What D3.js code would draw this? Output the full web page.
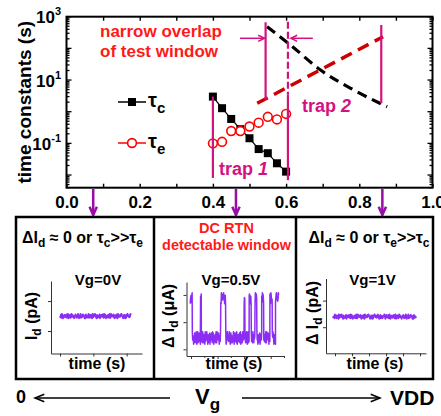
<!DOCTYPE html>
<html>
<head>
<meta charset="utf-8">
<script src="https://cdn.jsdelivr.net/npm/d3@7"></script>
<style>
  body { margin: 0; background: #fff; }
  svg text { font-family: "Liberation Sans", Arial, sans-serif; font-weight: bold; }
</style>
</head>
<body>
<svg id="chart" width="441" height="416"></svg>
<script>
// ---- gate-voltage axis and log time axis ----
const vgTicks = [0, 0.2, 0.4, 0.6, 0.8, 1.0];
const vgMinorTicks = [0.1, 0.3, 0.5, 0.7, 0.9];
const tauLabelExps = [3, 1, -1];

// ---- trap 1: measured capture / emission time constants (s) ----
const vgTrap1 = [0.400, 0.425, 0.450, 0.475, 0.500, 0.525, 0.550, 0.575, 0.600];
const tauC = [3.0, 1.29, 0.59, 0.28, 0.145, 0.066, 0.049, 0.0235, 0.0128];
const tauE = [0.100, 0.112, 0.245, 0.245, 0.34, 0.45, 0.69, 0.57, 0.85];

// ---- trap 2: extrapolated trends ----
const trap2Vg_c = [0.548, 0.612, 0.694, 0.785, 0.876];
const trap2Tau_c = [483, 128, 20.7, 4.84, 1.44];
const trap2Vg_e = [0.521, 0.865];
const trap2Tau_e = [1.84, 234];

// ---- vertical markers: [vg, tau top, tau bottom, dashed] ----
const markers = [
  [0.400, 3.0, 0.0081, false],
  [0.605, 3.4, 0.0069, false],
  [0.605, 690, 3.4, true],
  [0.544, 665, 2.35, false],
  [0.860, 548, 1.84, false]
];
// window arrows: [vg from, vg to] at tau = windowArrowTau
const windowArrows = [[0.474, 0.541], [0.673, 0.613]];
const windowArrowTau = 208;
// panels pointed at by the down arrows
const panelVg = [0.073, 0.463, 0.863];

// ---- drain-current traces in the three panels ----
const trace0V = { start: 0, end: 2.13, level: 0.5, spread: 0.075 };
const trace1V = { start: -0.13, end: 4.76, level: 0.4, spread: 0.085 };
const rtnLevel = { H: 1.88, L: 0.42 };
const rtnSpread = { H: 0.2, L: 0.23 };
const rtnStates = [
  [-0.03, 0.05, "H"], [0.05, 0.36, "L"], [0.36, 0.39, "H"], [0.39, 1.12, "L"],
  [1.12, 1.31, "H"], [1.31, 2.00, "L"], [2.00, 2.03, "H"], [2.03, 2.19, "L"],
  [2.19, 2.27, "H"], [2.27, 2.41, "L"], [2.41, 2.48, "H"], [2.48, 2.66, "L"],
  [2.66, 2.74, "H"], [2.74, 2.97, "L"], [2.97, 3.06, "H"], [3.06, 3.18, "L"],
  [3.18, 3.31, "H"]
];
// sampled noise (digits 0-9) for the current traces
const noiseDigits =
  "5281940637255813904671298364054831629705391427865060824519371746092385" +
  "9360714528047538619286035274192197463850652810973438596402717014895362" +
  "49720381561265970483";

const MAGENTA = "#d3127f", PURPLE = "#9a0ca8", TRACE = "#8c2df4";

const svg = d3.select("#chart");

// ================= top panel =================
const x = d3.scaleLinear().domain([0, 1]).range([66.5, 432.5]);
const y = d3.scaleLog().domain([Math.pow(10, -2.4), 1000]).range([187.7, 16.7]);
const [xl, xr] = x.range(), [yb, yt] = y.range();

// x axis (ticks inward, labels every 0.2)
const xAll = vgTicks.concat(vgMinorTicks).sort((a, b) => a - b);
const isMajor = v => vgTicks.some(t => Math.abs(t - v) < 1e-6);
const gxb = svg.append("g").attr("transform", `translate(0,${yb})`)
  .call(d3.axisBottom(x).tickValues(xAll).tickSize(-4).tickPadding(8)
    .tickFormat(v => isMajor(v) ? d3.format(".1f")(v) : ""));
gxb.attr("font-size", 17);
gxb.select(".domain").remove();
gxb.selectAll("line").attr("stroke", "#000").attr("stroke-width", 1.4);
gxb.selectAll("text").attr("fill", "#000");
const gxt = svg.append("g").attr("transform", `translate(0,${yt})`)
  .call(d3.axisTop(x).tickValues(xAll).tickSize(-4).tickFormat(""));
gxt.select(".domain").remove();
gxt.selectAll("line").attr("stroke", "#000").attr("stroke-width", 1.4);

// y axis ticks (left + right, inward, log minors)
const yTicks = [];
for (let e = -3; e <= 2; e++) for (let m = 1; m <= 9; m++) {
  const v = m * Math.pow(10, e);
  if (v >= y.domain()[0] && v <= 1000) yTicks.push({ v, major: m === 1 });
}
yTicks.push({ v: 1000, major: true });
const gy = svg.append("g");
yTicks.forEach(t => {
  const len = t.major ? 5 : 3;
  gy.append("line").attr("x1", xl).attr("x2", xl + len).attr("y1", y(t.v)).attr("y2", y(t.v))
    .attr("stroke", "#000").attr("stroke-width", 1.3);
  gy.append("line").attr("x1", xr).attr("x2", xr - len).attr("y1", y(t.v)).attr("y2", y(t.v))
    .attr("stroke", "#000").attr("stroke-width", 1.3);
});
tauLabelExps.forEach(e => {
  const t = svg.append("text").attr("x", 61).attr("y", y(Math.pow(10, e)) + 6.5)
    .attr("text-anchor", "end").attr("font-size", 17);
  t.append("tspan").text("10");
  t.append("tspan").attr("dy", -8).attr("font-size", 11).text(String(e));
});
svg.append("text").attr("transform", `translate(31,${(yt + yb) / 2}) rotate(-90)`)
  .attr("text-anchor", "middle").attr("font-size", 19).text("time constants (s)");

// frame
svg.append("rect").attr("x", xl).attr("y", yt).attr("width", xr - xl).attr("height", yb - yt)
  .attr("fill", "none").attr("stroke", "#000").attr("stroke-width", 2);

// trap 2 dashed trends
const lineC = d3.line().curve(d3.curveMonotoneX).x(d => x(d[0])).y(d => y(d[1]));
svg.append("path").attr("d", lineC(d3.zip(trap2Vg_c, trap2Tau_c)))
  .attr("fill", "none").attr("stroke", "#000").attr("stroke-width", 3.2).attr("stroke-dasharray", "10,6");
svg.append("path").attr("d", d3.line().x(d => x(d[0])).y(d => y(d[1]))(d3.zip(trap2Vg_e, trap2Tau_e)))
  .attr("fill", "none").attr("stroke", "#cc0000").attr("stroke-width", 3.5).attr("stroke-dasharray", "12,7");

// trap 1 data
svg.append("path").attr("d", d3.line().x((d, i) => x(vgTrap1[i])).y(d => y(d))(tauC))
  .attr("fill", "none").attr("stroke", "#000").attr("stroke-width", 1.2);
svg.append("g").selectAll("rect").data(tauC).join("rect")
  .attr("x", (d, i) => x(vgTrap1[i]) - 4).attr("y", d => y(d) - 4)
  .attr("width", 8).attr("height", 8).attr("fill", "#000");
svg.append("g").selectAll("circle").data(tauE).join("circle")
  .attr("cx", (d, i) => x(vgTrap1[i])).attr("cy", d => y(d)).attr("r", 4.4)
  .attr("fill", "#fff").attr("stroke", "#ff0000").attr("stroke-width", 1.6);

// markers
markers.forEach(([vg, top, bot, dashed]) => {
  svg.append("line").attr("x1", x(vg)).attr("x2", x(vg)).attr("y1", y(top)).attr("y2", y(bot))
    .attr("stroke", MAGENTA).attr("stroke-width", 2.2)
    .attr("stroke-dasharray", dashed ? "7,3" : null);
});

function arrow(g, x1, y1, x2, y2, color, w, head, spread) {
  g.append("line").attr("x1", x1).attr("y1", y1).attr("x2", x2).attr("y2", y2)
    .attr("stroke", color).attr("stroke-width", w);
  const a = Math.atan2(y2 - y1, x2 - x1);
  const p = da => [x2 - head * Math.cos(a + da), y2 - head * Math.sin(a + da)];
  g.append("path").attr("d", `M${p(spread)}L${x2},${y2}L${p(-spread)}`)
    .attr("fill", "none").attr("stroke", color).attr("stroke-width", w);
}
windowArrows.forEach(([a, b]) =>
  arrow(svg, x(a), y(windowArrowTau), x(b), y(windowArrowTau), MAGENTA, 1.5, 7, 0.45));

// annotations
const ann = svg.append("g").attr("font-size", 17);
ann.append("text").attr("x", 100).attr("y", 37).attr("fill", "#ff1a1a").text("narrow overlap");
ann.append("text").attr("x", 100).attr("y", 57).attr("fill", "#ff1a1a").text("of test window");
const t2 = ann.append("text").attr("x", 302).attr("y", 112).attr("fill", MAGENTA).attr("font-size", 18);
t2.append("tspan").text("trap ");
t2.append("tspan").attr("font-style", "italic").text("2");
const t1 = ann.append("text").attr("x", 219).attr("y", 175).attr("fill", MAGENTA).attr("font-size", 18);
t1.append("tspan").text("trap ");
t1.append("tspan").attr("font-style", "italic").text("1");

// legend
const lg = svg.append("g");
lg.append("line").attr("x1", 118).attr("x2", 146).attr("y1", 102).attr("y2", 102).attr("stroke", "#000").attr("stroke-width", 1.5);
lg.append("rect").attr("x", 128).attr("y", 98).attr("width", 8).attr("height", 8).attr("fill", "#000");
lg.append("line").attr("x1", 118).attr("x2", 146).attr("y1", 143).attr("y2", 143).attr("stroke", "#ff0000").attr("stroke-width", 1.5);
lg.append("circle").attr("cx", 132).attr("cy", 143).attr("r", 4.4).attr("fill", "#fff").attr("stroke", "#ff0000").attr("stroke-width", 1.6);
[["c", 107], ["e", 148]].forEach(([s, by]) => {
  const t = lg.append("text").attr("x", 148).attr("y", by).attr("font-size", 20);
  t.append("tspan").text("τ");
  t.append("tspan").attr("dy", 6).attr("font-size", 15).text(s);
});

// down arrows to the panels
panelVg.forEach(v => arrow(svg, x(v), 189, x(v), 215, PURPLE, 2.5, 9, 0.42));

// ================= bottom panels =================
const box = svg.append("g");
box.append("rect").attr("x", 16).attr("y", 217).attr("width", 417).attr("height", 162)
  .attr("fill", "none").attr("stroke", "#000").attr("stroke-width", 2.5);
[154, 296].forEach(px => box.append("line").attr("x1", px).attr("x2", px).attr("y1", 217).attr("y2", 379)
  .attr("stroke", "#000").attr("stroke-width", 2.5));

function subText(g, xc, yb, parts, size, fill) {
  const t = g.append("text").attr("x", xc).attr("y", yb).attr("text-anchor", "middle")
    .attr("font-size", size).attr("fill", fill || "#000");
  let down = false;
  parts.forEach(p => {
    const isSub = typeof p === "object";
    const sp = t.append("tspan").text(isSub ? p.sub : p);
    if (isSub && !down) { sp.attr("dy", 4).attr("font-size", size * 0.75); down = true; }
    else if (isSub) sp.attr("font-size", size * 0.75);
    else if (down) { sp.attr("dy", -4); down = false; }
  });
  return t;
}
subText(box, 82.5, 243, ["ΔI", { sub: "d" }, " ≈ 0 or τ", { sub: "c" }, ">>τ", { sub: "e" }], 16);
subText(box, 369, 243, ["ΔI", { sub: "d" }, " ≈ 0 or τ", { sub: "e" }, ">>τ", { sub: "c" }], 16);
box.append("text").attr("x", 226.5).attr("y", 233).attr("text-anchor", "middle").attr("font-size", 14.5).attr("fill", "#ff1a1a").text("DC RTN");
box.append("text").attr("x", 226.5).attr("y", 249.5).attr("text-anchor", "middle").attr("font-size", 14.5).attr("fill", "#ff1a1a").text("detectable window");

// mini plot helper
function miniPlot(cfg) {
  const g = svg.append("g");
  const sx = d3.scaleLinear().domain(cfg.xd).range(cfg.xr);
  const sy = d3.scaleLinear().domain(cfg.yd).range(cfg.yr);
  g.append("g").attr("transform", `translate(0,${cfg.yr[0]})`)
    .call(d3.axisBottom(sx).tickValues(cfg.xt).tickSize(3).tickSizeOuter(0).tickFormat(""));
  g.append("g").attr("transform", `translate(${cfg.xr[0]},0)`)
    .call(d3.axisLeft(sy).tickValues(cfg.yt).tickSize(3).tickSizeOuter(0).tickFormat(""));
  if (cfg.xm) g.append("g").attr("transform", `translate(0,${cfg.yr[0]})`)
    .call(d3.axisBottom(sx).tickValues(cfg.xm).tickSize(2).tickSizeOuter(0).tickFormat(""))
    .select(".domain").remove();
  g.selectAll(".domain, .tick line").attr("stroke", "#333").attr("stroke-width", 1);
  // trace
  g.append("path").attr("d", d3.line().x(d => sx(d[0])).y(d => sy(d[1]))(cfg.points))
    .attr("fill", "none").attr("stroke", TRACE).attr("stroke-width", cfg.w || 1.2).attr("stroke-linejoin", "round");
  // labels
  g.append("text").attr("x", cfg.titleX).attr("y", 285).attr("text-anchor", "middle").attr("font-size", 15).text(cfg.title);
  g.append("text").attr("x", cfg.timeX).attr("y", 369).attr("text-anchor", "middle").attr("font-size", 16).text("time (s)");
  const yl = g.append("text").attr("transform", `translate(${cfg.ylabX},${cfg.ylabY}) rotate(-90)`)
    .attr("text-anchor", "middle").attr("font-size", 16);
  yl.append("tspan").text(cfg.ylabPre);
  yl.append("tspan").attr("dy", 4).attr("font-size", 12).text("d");
  yl.append("tspan").attr("dy", -4).text(cfg.ylabPost);
}

function flatPoints(tr, step, offset) {
  const pts = [];
  let i = offset;
  for (let t = tr.start; t <= tr.end + 1e-9; t += step, i++) {
    const n = (+noiseDigits[i % noiseDigits.length] - 4.5) / 4.5;
    pts.push([t, tr.level + n * tr.spread]);
  }
  return pts;
}
function rtnPoints(step) {
  const pts = [];
  let i = 17;
  rtnStates.forEach(([a, b, s]) => {
    for (let t = a; t <= b + 1e-9; t += step, i++) {
      const n = (+noiseDigits[i % noiseDigits.length] - 4.5) / 4.5;
      pts.push([t, rtnLevel[s] + n * rtnSpread[s]]);
    }
  });
  return pts;
}

miniPlot({
  xd: [-0.27, 2.46], xr: [51, 142], yd: [-0.75, 1.67], yr: [353.5, 281],
  xt: [0, 1, 2], yt: [0, 1], points: flatPoints(trace0V, 0.015, 0), w: 1.8,
  title: "Vg=0V", titleX: 98, timeX: 97, ylabX: 37, ylabY: 316, ylabPre: "I", ylabPost: " (pA)"
});
miniPlot({
  xd: [-0.17, 3.5], xr: [186.5, 284], yd: [-0.245, 2.475], yr: [356, 282],
  xt: [0, 1, 2, 3], xm: [0.5, 1.5, 2.5, 3.5], yt: [0, 1, 2], points: rtnPoints(0.012), w: 1.5,
  title: "Vg=0.5V", titleX: 231, timeX: 234, ylabX: 174, ylabY: 316, ylabPre: "Δ I", ylabPost: " (μA)"
});
miniPlot({
  xd: [-0.53, 5.35], xr: [326, 426], yd: [-0.98, 1.83], yr: [353.3, 278.5],
  xt: [0, 1, 2, 3, 4, 5], yt: [0, 1], points: flatPoints(trace1V, 0.03, 53), w: 1.8,
  title: "Vg=1V", titleX: 372.5, timeX: 375, ylabX: 318, ylabY: 313, ylabPre: "Δ I", ylabPost: " (pA)"
});

// ================= Vg direction row =================
const row = svg.append("g");
row.append("text").attr("x", 16).attr("y", 403).attr("font-size", 18).text("0");
arrow(row, 170, 398, 35, 398, "#000", 1.5, 10, 0.38);
arrow(row, 242, 398, 380, 398, "#000", 1.5, 10, 0.38);
const vgt = row.append("text").attr("x", 195).attr("y", 404).attr("font-size", 22);
vgt.append("tspan").text("V");
vgt.append("tspan").attr("dy", 6).attr("font-size", 17).text("g");
row.append("text").attr("x", 390).attr("y", 405).attr("font-size", 21).text("VDD");
</script>
</body>
</html>
